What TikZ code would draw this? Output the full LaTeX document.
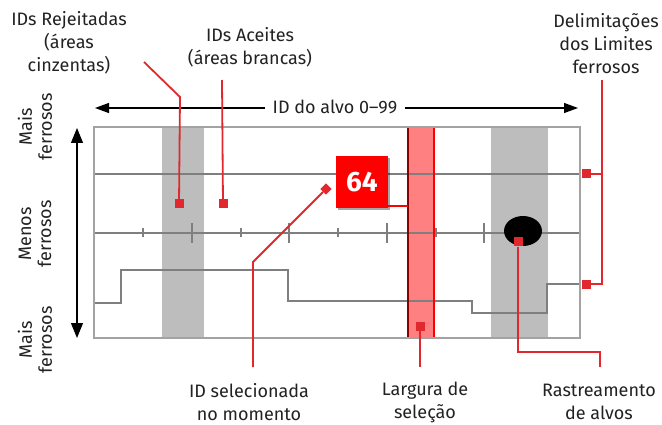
\documentclass[tikz,border=0pt]{standalone}
\usepackage{fontspec}
\setmainfont{Fira Sans}
\usetikzlibrary{arrows.meta,positioning,shadows}
\definecolor{TextDark}{HTML}{222222}
\definecolor{Frame}{HTML}{A3A3A3}
\definecolor{Trace}{HTML}{7F7F7F}
\definecolor{RejGray}{HTML}{BDBDBD}
\definecolor{SelPink}{HTML}{FF8080}
\definecolor{SelRed}{HTML}{FF0000}
\definecolor{SelDark}{HTML}{8B0000}
\definecolor{LeadRed}{HTML}{E0282E}
\begin{document}
\begin{tikzpicture}[x=1pt,y=-1pt,every node/.style={font=\fontsize{18}{23}\selectfont,text=TextDark,align=center},trace/.style={draw=Trace,line width=2pt},lead/.style={draw=LeadRed,line width=1.8pt},pin/.style={rectangle,fill=LeadRed,minimum size=9pt,inner sep=0pt},axarrow/.style={draw=black,line width=1.1pt,-{Triangle[length=14pt,width=10pt]}},idbox/.style={rectangle,fill=SelRed,minimum size=52pt,inner sep=0pt,text=white,font=\fontsize{28}{28}\selectfont\bfseries,drop shadow={shadow xshift=2pt,shadow yshift=-2pt,opacity=0.35,fill=black}}]
\useasboundingbox (0,0) rectangle (662,425);
\fill[white] (0,0) rectangle (662,425);
% bands
\fill[RejGray] (162,127) rectangle (204,338); \fill[RejGray] (491,127) rectangle (548,338);
\fill[SelPink] (407,127) rectangle (435,338);
% target lines
\draw[trace,line width=2.4pt] (94,174)--(580,174);
\draw[trace,line width=2.8pt] (94,233)--(580,233);
\foreach \x in {143,241,338,436}{\draw[trace,line width=1.3pt] (\x,228.5)--(\x,237.5);}
\foreach \x in {192,289,387,484}{\draw[trace,line width=1.3pt] (\x,223)--(\x,243);}
\draw[trace] (94,303) -| (121,270) -| (288,301) -| (472,313) -| (547,284) -- (580,284);
\draw[SelDark,line width=2.2pt] (408,127)--(408,338); \draw[SelRed,line width=2pt] (434,127)--(434,338);
\fill[black] (523,231) ellipse [x radius=19, y radius=15];
\draw[Frame,line width=1.4pt] (94,127) rectangle (580,338);
% axes
\node[inner sep=7pt] (idaxis) at (335,107) {ID do alvo 0–99};
\coordinate (axL) at (95,108); \coordinate (axR) at (578,108);
\draw[axarrow] (idaxis.west |- axL)--(axL); \draw[axarrow] (idaxis.east |- axR)--(axR);
\coordinate (ferTop) at (77,128); \coordinate (ferBot) at (77,338);
\draw[draw=black,line width=1.1pt,{Triangle[length=15pt,width=12pt]}-{Triangle[length=15pt,width=12pt]}] (ferTop)--(ferBot);
\node[rotate=90,font=\fontsize{18}{20}\selectfont] (ferA) at (35,127) {Mais\\ferrosos};
\node[rotate=90,font=\fontsize{18}{20}\selectfont] (ferB) at (35,234) {Menos\\ferrosos};
\node[rotate=90,font=\fontsize{18}{20}\selectfont] (ferC) at (35,340) {Mais\\ferrosos};
% labels
\node (rejtxt) at (69,43) {IDs Rejeitadas\\(áreas\\cinzentas)};
\node (acctxt) at (250,47) {IDs Aceites\\(áreas brancas)};
\node (limtxt) at (606,44) {Delimitações\\dos Limites\\ferrosos};
\node (seltxt) at (249,402) {ID selecionada\\no momento};
\node (widtxt) at (425,402) {Largura de\\seleção};
\node (trktxt) at (599,402) {Rastreamento\\de alvos};
% pins
\node[pin] (rejpin) at (179,204) {}; \node[pin] (accpin) at (223,204) {};
\node[pin] (limpinA) at (586,174) {}; \node[pin] (limpinB) at (586,284) {};
\node[pin,rotate=45,minimum size=8pt] (selpin) at (326,189) {};
\node[pin] (widpin) at (420,326) {}; \node[pin] (trkpin) at (518,242) {};
\node[idbox] (curid) at (362,182) {64};
\coordinate (selL) at (408,206);
\draw[SelRed,line width=2.6pt] (selL -| curid.east)--(selL);
% leaders
\coordinate (rejend) at (144,62); \coordinate (accend) at (222,80); \coordinate (limend) at (602,80);
\coordinate (selend) at (253,367); \coordinate (widend) at (420,367); \coordinate (trkend) at (600,367);
\draw[lead] (rejend)--(180,97)--(rejpin);
\draw[lead] (accend)--(accpin);
\draw[lead] (limend)--(602,284)--(limpinB); \draw[lead] (602,174)--(limpinA);
\draw[lead] (selpin)--(253,262)--(selend);
\draw[lead] (widpin)--(widend);
\draw[lead] (trkpin)--(518,352)-|(trkend);
\end{tikzpicture}
\end{document}
